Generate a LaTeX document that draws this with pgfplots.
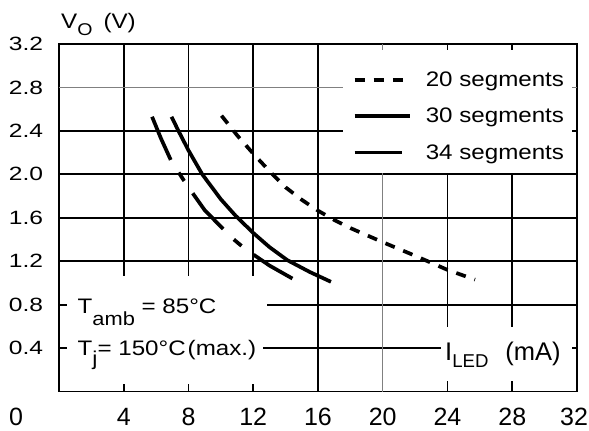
\documentclass[border=0pt]{standalone}
\usepackage{fontspec}
\setmainfont{Liberation Sans}
\newfontfamily\xfont{Liberation Sans}
\newfontfamily\yfont{Liberation Sans}[FakeStretch=1.28]
\newfontfamily\lfont{Liberation Sans}[FakeStretch=1.15]
\usepackage{pgfplots}
\pgfplotsset{compat=1.18}
\newcommand\XF{\xfont\fontsize{25bp}{25bp}\selectfont}
\newcommand\YF{\yfont\fontsize{19.2bp}{19.2bp}\selectfont}
\newcommand\LF{\lfont\fontsize{21bp}{21bp}\selectfont}
\newcommand\SF[1]{\lfont\fontsize{#1}{#1}\selectfont}
\begin{document}
\begin{tikzpicture}
\begin{axis}[
  at={(0,0)}, anchor=south west,
  scale only axis, width=518bp, height=347.5bp,
  xmin=0, xmax=32, ymin=0, ymax=3.2,
  clip=false,
  xtick={4,8,12,16,24,28,32},
  xticklabels={4,8,12,16,24,28,\hspace{-6bp}32},
  extra x ticks={20}, extra x tick labels={20},
  extra x tick style={grid style={draw=gray, line width=1.3bp}},
  ytick={0.4,0.8,1.2,1.6,2.0,2.4,3.2},
  yticklabels={0.4,0.8,1.2,1.6,2.0,2.4,3.2},
  extra y ticks={2.8}, extra y tick labels={2.8},
  extra y tick style={grid style={draw=gray, line width=1.3bp}},
  grid=major,
  grid style={draw=black, line width=1.8bp},
  major tick length=0pt,
  axis line style={line width=1.8bp},
  xticklabel style={font=\XF, anchor=base, inner sep=0pt, yshift=-34.2bp},
  yticklabel style={font=\YF, anchor=east, inner sep=0pt, xshift=-15.7bp},
  legend style={at={(0.5669,0.9200)}, anchor=north west, inner sep=0pt, outer sep=0pt,
    draw=none, fill=none, row sep=20.2bp, column sep=0pt,
    nodes={inner sep=0pt, outer sep=0pt, font=\LF}},
  legend cell align=left,
  legend image code/.code={\draw[#1] (0bp,0bp) -- (55bp,0bp); \path[draw=none, fill=none] (0bp,-4.4bp) (71.3bp,0bp);},
]
\fill[white] (axis cs:0.47,0.065) rectangle (axis cs:12.6,0.6);
\fill[white] (axis cs:0.47,0.6) rectangle (axis cs:12.83,1.06);
\fill[white] (axis cs:23.57,0.097) rectangle (axis cs:31.67,0.594);
\fill[white] (axis cs:17.56,2.01) rectangle (axis cs:31.67,3.145);

\addplot[black, line width=3.7bp, dash pattern=on 10bp off 9.2bp] coordinates {
(10.04,2.54) (11,2.36) (12,2.19) (13,2.03) (14,1.88) (15,1.765) (16,1.665)
(17,1.58) (18,1.505) (20,1.375) (22,1.25) (24,1.12) (25.7,1.03)};
\addlegendentry{20 segments}
\addplot[black, line width=3.7bp] coordinates {
(6.95,2.53) (7.38,2.40) (8,2.22) (8.85,2.0) (10,1.77) (10.9,1.62) (12,1.46)
(13,1.33) (14.1,1.21) (15.5,1.10) (16.8,1.01)};
\addlegendentry{30 segments}
\addplot[black, line width=3.7bp, dash pattern=on 47bp off 15bp on 10bp off 15bp] coordinates {
(5.75,2.53) (6.3,2.33) (6.91,2.13) (7.38,2.02) (7.73,1.94) (8.24,1.83) (9,1.67)
(10.12,1.50) (10.8,1.40) (11.2,1.35) (12.02,1.26) (13,1.16) (14.42,1.04)};
\addlegendentry{34 segments}

\node[anchor=base west, inner sep=0pt, font=\LF, xshift=2bp, yshift=16bp] at (axis cs:0,3.2)
  {V\raisebox{-7bp}{\SF{17bp}O}\hspace{11bp}(V)};
\node[anchor=base west, inner sep=0pt, font=\LF, xshift=18.5bp, yshift=-8.4bp] at (axis cs:0,0.8)
  {T\raisebox{-12bp}{\SF{19bp}amb} = 85°C};
\node[anchor=base west, inner sep=0pt, font=\LF, xshift=18.5bp, yshift=-7.9bp] at (axis cs:0,0.4)
  {T\raisebox{-10bp}{\SF{20bp}j}= 150°C\hspace{2bp}(max.)};
\node[anchor=base west, inner sep=0pt, xshift=-2.5bp, yshift=-12bp] at (axis cs:24,0.4)
  {\xfont\fontsize{25.5bp}{25.5bp}\selectfont I\raisebox{-7bp}{\xfont\fontsize{18.6bp}{18.6bp}\selectfont LED}\hspace{17bp}(mA)};
\node[anchor=base, inner sep=0pt, font=\XF, xshift=-43bp, yshift=-34.2bp] at (axis cs:0,0) {0};
\end{axis}
\pgfresetboundingbox
\path[use as bounding box] (-59bp,-39.5bp) rectangle (530bp,391.5bp);
\end{tikzpicture}
\end{document}
